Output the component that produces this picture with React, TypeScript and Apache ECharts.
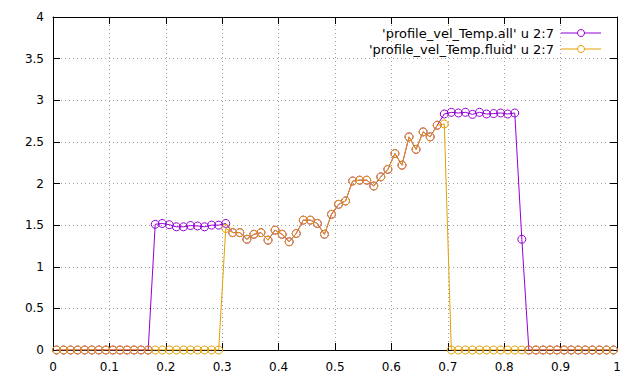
import React, { useEffect, useRef } from "react";
import * as echarts from "echarts";

const xValues = [
  0.00625, 0.01875, 0.03125, 0.04375, 0.05625, 0.06875, 0.08125, 0.09375, 0.10625, 0.11875,
  0.13125, 0.14375, 0.15625, 0.16875, 0.18125, 0.19375, 0.20625, 0.21875, 0.23125, 0.24375,
  0.25625, 0.26875, 0.28125, 0.29375, 0.30625, 0.31875, 0.33125, 0.34375, 0.35625, 0.36875,
  0.38125, 0.39375, 0.40625, 0.41875, 0.43125, 0.44375, 0.45625, 0.46875, 0.48125, 0.49375,
  0.50625, 0.51875, 0.53125, 0.54375, 0.55625, 0.56875, 0.58125, 0.59375, 0.60625, 0.61875,
  0.63125, 0.64375, 0.65625, 0.66875, 0.68125, 0.69375, 0.70625, 0.71875, 0.73125, 0.74375,
  0.75625, 0.76875, 0.78125, 0.79375, 0.80625, 0.81875, 0.83125, 0.84375, 0.85625, 0.86875,
  0.88125, 0.89375, 0.90625, 0.91875, 0.93125, 0.94375, 0.95625, 0.96875, 0.98125, 0.99375,
];

const allValues = [
  0, 0, 0, 0, 0, 0, 0, 0, 0, 0,
  0, 0, 0, 0, 1.51, 1.52, 1.505, 1.48, 1.48, 1.495,
  1.49, 1.48, 1.5, 1.5, 1.52, 1.41, 1.41, 1.33, 1.39, 1.41,
  1.32, 1.44, 1.39, 1.3, 1.4, 1.56, 1.56, 1.52, 1.39, 1.63,
  1.75, 1.79, 2.03, 2.04, 2.04, 1.97, 2.08, 2.17, 2.36, 2.22,
  2.56, 2.41, 2.62, 2.56, 2.7, 2.835, 2.855, 2.847, 2.855, 2.83,
  2.855, 2.835, 2.84, 2.847, 2.835, 2.847, 1.33, 0, 0, 0,
  0, 0, 0, 0, 0, 0, 0, 0, 0, 0,
];

const fluidValues = [
  0, 0, 0, 0, 0, 0, 0, 0, 0, 0,
  0, 0, 0, 0, 0, 0, 0, 0, 0, 0,
  0, 0, 0, 0, 1.46, 1.41, 1.41, 1.33, 1.39, 1.41,
  1.32, 1.44, 1.39, 1.3, 1.4, 1.56, 1.56, 1.52, 1.39, 1.63,
  1.75, 1.79, 2.03, 2.04, 2.04, 1.97, 2.08, 2.17, 2.36, 2.22,
  2.56, 2.41, 2.62, 2.56, 2.7, 2.715, 0, 0, 0, 0,
  0, 0, 0, 0, 0, 0, 0, 0, 0, 0,
  0, 0, 0, 0, 0, 0, 0, 0, 0, 0,
];

const seriesNames = ["'profile_vel_Temp.all' u 2:7", "'profile_vel_Temp.fluid' u 2:7"];
const seriesColors = ["#9400d3", "#e69f00"];

const FONT = "DejaVu Sans";

export default function App() {
  const ref = useRef<HTMLDivElement>(null);
  useEffect(() => {
    if (!ref.current) return;
    const chart = echarts.init(ref.current, undefined, { renderer: "svg" });
    const gridLine = { show: true, lineStyle: { color: "#a0a0a0", width: 1, type: [1, 3] as any } };
    const tick = { show: true, inside: true, length: 7, lineStyle: { color: "#000", width: 1 } };
    const axisLine = { show: true, onZero: false, lineStyle: { color: "#000", width: 1 } };
    const mk = (name: string, data: number[], color: string) => ({
      name,
      type: "line",
      data: xValues.map((x, i) => [x, data[i]]),
      symbol: "circle",
      symbolSize: 8,
      showSymbol: true,
      lineStyle: { color, width: 1 },
      itemStyle: { color: "rgba(0,0,0,0)", borderColor: color, borderWidth: 1 },
      emphasis: { disabled: true },
      silent: true,
    });
    const legendRows = seriesNames.flatMap((n, k) => {
      const y = 33 + k * 16;
      return [
        {
          type: "text",
          style: {
            text: n,
            x: 554,
            y,
            align: "right",
            verticalAlign: "middle",
            textAlign: "right",
            textVerticalAlign: "middle",
            font: `13px '${FONT}'`,
            fill: "#000",
          },
        },
        {
          type: "line",
          shape: { x1: 561, y1: y, x2: 601, y2: y },
          style: { stroke: seriesColors[k], lineWidth: 1 },
        },
        {
          type: "circle",
          shape: { cx: 581, cy: y, r: 3.5 },
          style: { fill: "#fff", stroke: seriesColors[k], lineWidth: 1 },
        },
      ];
    });
    chart.setOption({
      animation: false,
      grid: { left: 53, right: 23, top: 17, bottom: 34, containLabel: false },
      xAxis: [
        {
          type: "value",
          min: 0,
          max: 1,
          interval: 0.1,
          position: "bottom",
          axisLine,
          axisTick: tick,
          splitLine: gridLine,
          axisLabel: { color: "#000", fontSize: 12, fontFamily: FONT, margin: 11 },
        },
        {
          type: "value",
          min: 0,
          max: 1,
          interval: 0.1,
          position: "top",
          axisLine,
          axisTick: tick,
          splitLine: { show: false },
          axisLabel: { show: false },
        },
      ],
      yAxis: [
        {
          type: "value",
          min: 0,
          max: 4,
          interval: 0.5,
          position: "left",
          axisLine,
          axisTick: tick,
          splitLine: gridLine,
          axisLabel: { color: "#000", fontSize: 12, fontFamily: FONT, margin: 9 },
        },
        {
          type: "value",
          min: 0,
          max: 4,
          interval: 0.5,
          position: "right",
          axisLine,
          axisTick: tick,
          splitLine: { show: false },
          axisLabel: { show: false },
        },
      ],
      series: [mk(seriesNames[0], allValues, seriesColors[0]), mk(seriesNames[1], fluidValues, seriesColors[1])],
      graphic: legendRows,
    });
    return () => chart.dispose();
  }, []);
  return <div ref={ref} style={{ width: 640, height: 384, position: "absolute", left: 0, top: 0 }} />;
}
